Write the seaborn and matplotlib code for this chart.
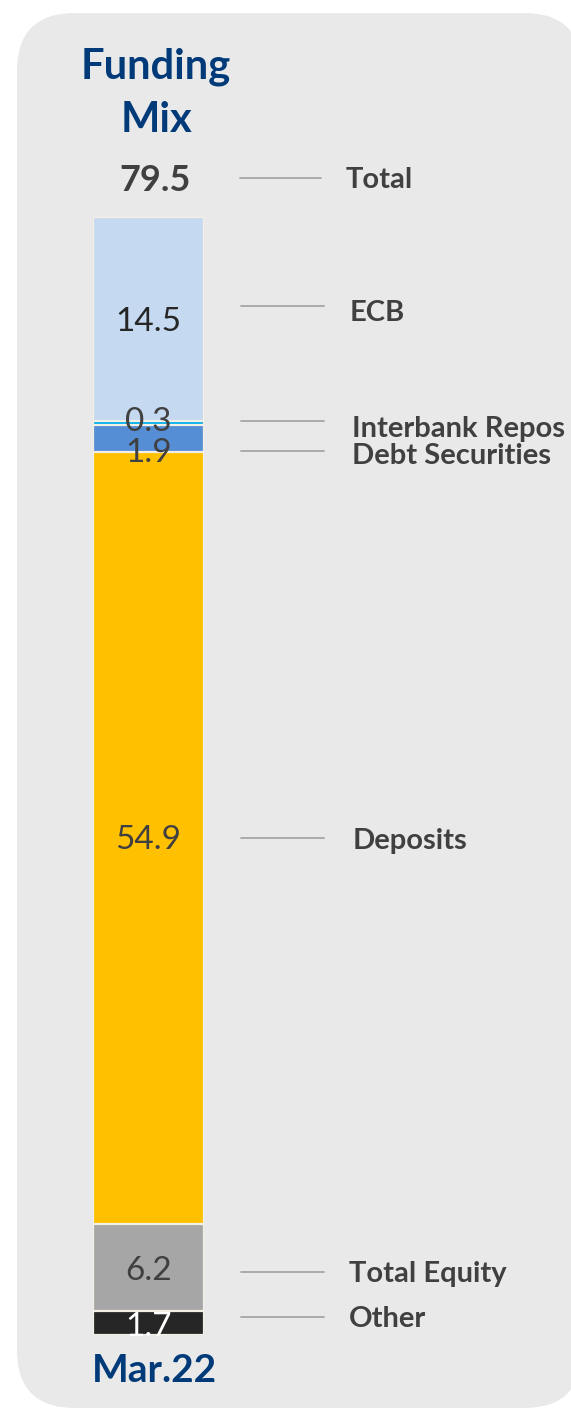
import matplotlib
matplotlib.use("Agg")
import matplotlib.pyplot as plt
import seaborn as sns
import pandas as pd
from matplotlib.patches import FancyBboxPatch

# ---------------- data ----------------
period = "Mar.22"
categories = ["Other", "Total Equity", "Deposits", "Debt Securities", "Interbank Repos", "ECB"]
values = [1.7, 6.2, 54.9, 1.9, 0.3, 14.5]
value_labels = ["1.7", "6.2", "54.9", "1.9", "0.3", "14.5"]
total_value = 79.5
total_label = "79.5"
title_lines = ["Funding", "Mix"]

# ---------------- style ----------------
seg_colors = ["#262626", "#a6a6a6", "#ffc000", "#558ed5", "#00b0f0", "#c5d9f1"]
val_colors = ["#ffffff", "#404040", "#404040", "#404040", "#404040", "#262626"]
val_dy = [-0.3, -0.25, -0.15, -1.03, 0.1, -0.2]        # label nudges (data units)
lab_y = [1317, 1272, 838, 451, 421, 306]                # leader line y (px)
lab_x = [349, 349, 353, 352, 352, 350]                  # label x (px)
lab_base = [1327, 1282, 849, 464, 437, 321]             # label baseline (px)
navy = "#003a78"
dark = "#404040"
W, H = 571, 1409

sns.set_theme(style="white")
plt.rcParams['font.family'] = ['Lato', 'DejaVu Sans']

fig = plt.figure(figsize=(W / 100, H / 100), dpi=100)
fig.patch.set_facecolor("white")

canvas = fig.add_axes([0, 0, 1, 1])
canvas.set_xlim(0, W)
canvas.set_ylim(H, 0)
canvas.axis("off")

r = 58
x0, y0, x1, y1 = 17, 13, 582, 1408
canvas.add_patch(FancyBboxPatch((x0 + r, y0 + r), (x1 - x0) - 2 * r, (y1 - y0) - 2 * r,
                                boxstyle=f"round,pad={r}", fc="#e9e9e9", ec="none"))

# bar axes
bx0, bx1, by_top, by_bot = 93, 204, 217, 1335
bar_ax = fig.add_axes([bx0 / W, (H - by_bot) / H, (bx1 - bx0) / W, (by_bot - by_top) / H])
bar_ax.set_facecolor("none")

cum = pd.Series(values).cumsum().tolist()
df = pd.DataFrame({"period": [period] * len(values), "cum": cum, "cat": categories})
for i in reversed(range(len(values))):
    sub = df.iloc[[i]]
    sns.barplot(data=sub, x="period", y="cum", color=seg_colors[i], saturation=1,
                width=1.0, edgecolor="#f3efe4", linewidth=1.6, ax=bar_ax, errorbar=None)
bar_ax.set_xlim(-0.5, 0.5)
bar_ax.set_ylim(0, total_value)
bar_ax.axis("off")

bottoms = [0] + cum[:-1]
for i, (v, b) in enumerate(zip(values, bottoms)):
    bar_ax.text(0, b + v / 2 + val_dy[i], value_labels[i], ha="center", va="center",
                fontsize=24, color=val_colors[i], clip_on=False, zorder=5)

# title, total, period
canvas.text(156, 79, title_lines[0], ha="center", va="baseline", fontsize=30,
            fontweight="bold", color=navy)
canvas.text(156, 132, title_lines[1], ha="center", va="baseline", fontsize=30,
            fontweight="bold", color=navy)
canvas.text(155, 191, total_label, ha="center", va="baseline", fontsize=26,
            fontweight="bold", color=dark)
canvas.text(154, 1382, period, ha="center", va="baseline", fontsize=28,
            fontweight="bold", color=navy)

# leader lines and labels
canvas.plot([240, 321], [178, 178], color="#a6a6a6", lw=1.3)
canvas.text(346, 188, "Total", ha="left", va="baseline", fontsize=21,
            fontweight="bold", color=dark)
for i, cat in enumerate(categories):
    canvas.plot([241, 324], [lab_y[i], lab_y[i]], color="#a6a6a6", lw=1.3)
    canvas.text(lab_x[i], lab_base[i], cat, ha="left", va="baseline", fontsize=21,
                fontweight="bold", color=dark)

fig.savefig("out.png", dpi=100, facecolor="white")
